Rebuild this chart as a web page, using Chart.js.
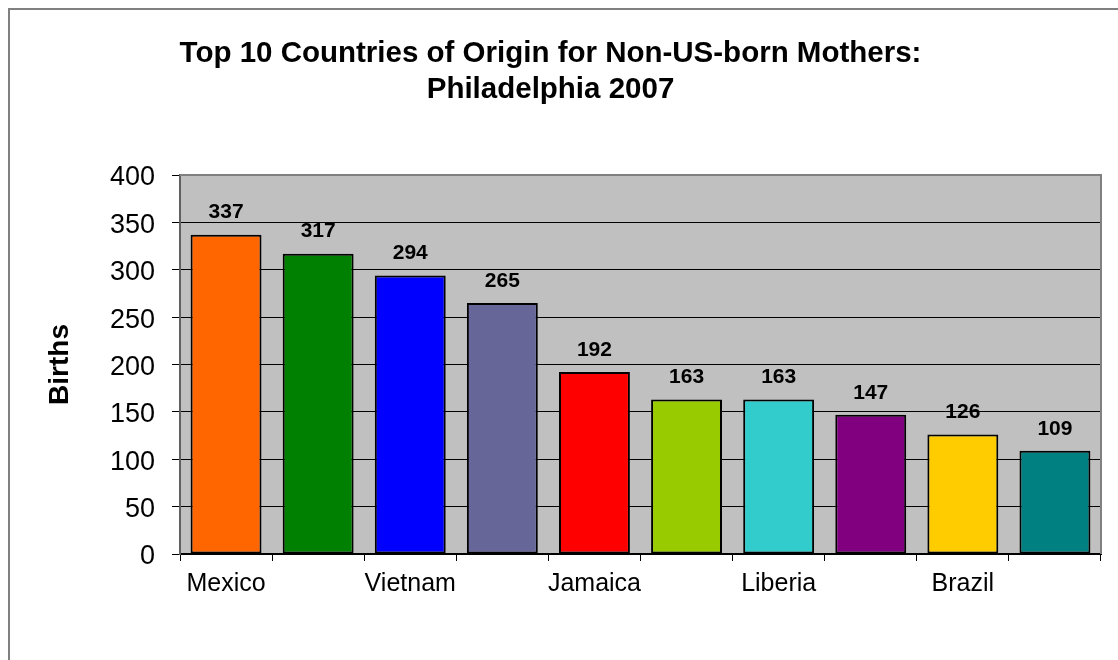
<!DOCTYPE html>
<html>
<head>
<meta charset="utf-8">
<script src="https://cdn.jsdelivr.net/npm/chart.js@4"></script>
<style>
html,body{margin:0;padding:0;background:#fff;}
#wrap{width:1118px;height:660px;position:relative;}
</style>
</head>
<body>
<div id="wrap"><canvas id="c" width="1118" height="660"></canvas></div>
<script>
const categories = ["Mexico", "", "Vietnam", "", "Jamaica", "", "Liberia", "", "Brazil", ""];
const births = [337, 317, 294, 265, 192, 163, 163, 147, 126, 109];
const barColors = ["#FF6600", "#008000", "#0000FF", "#666699", "#FF0000", "#99CC00", "#33CCCC", "#800080", "#FFCC00", "#008080"];
const yTicks = [0, 50, 100, 150, 200, 250, 300, 350, 400];
const titleLines = ["Top 10 Countries of Origin for Non-US-born Mothers:", "Philadelphia 2007"];
const yTitle = "Births";

const FONT = "'Liberation Sans', Arial, sans-serif";

const decor = {
  id: 'decor',
  beforeDraw(chart) {
    const {ctx, chartArea: a} = chart;
    ctx.save();
    ctx.fillStyle = '#C0C0C0';
    ctx.fillRect(a.left, a.top, a.right - a.left, a.bottom - a.top);
    ctx.strokeStyle = '#808080';
    ctx.lineWidth = 2;
    ctx.strokeRect(9, 9, 3000, 3000);
    ctx.restore();
  },
  afterDatasetsDraw(chart) {
    const {ctx, chartArea: a} = chart;
    ctx.save();
    ctx.strokeStyle = '#808080';
    ctx.lineWidth = 2;
    ctx.beginPath();
    ctx.moveTo(a.left, a.top);
    ctx.lineTo(a.right, a.top);
    ctx.lineTo(a.right, a.bottom);
    ctx.stroke();
    // value labels
    const meta = chart.getDatasetMeta(0);
    ctx.fillStyle = '#000';
    ctx.font = "bold 21px " + FONT;
    ctx.textAlign = 'center';
    ctx.textBaseline = 'middle';
    meta.data.forEach((bar, i) => {
      ctx.fillText(String(chart.data.datasets[0].data[i]), bar.x, bar.y - 22);
    });
    ctx.restore();
  }
};

new Chart(document.getElementById('c'), {
  type: 'bar',
  data: {
    labels: categories,
    datasets: [{
      data: births,
      backgroundColor: barColors,
      borderColor: '#000',
      borderWidth: 2,
      borderSkipped: false,
      barPercentage: 0.77,
      categoryPercentage: 1.0
    }]
  },
  options: {
    responsive: false,
    animation: false,
    layout: {padding: {left: 0, right: 17, top: 0, bottom: 0}},
    plugins: {
      legend: {display: false},
      tooltip: {enabled: false},
      title: {
        display: true,
        text: titleLines,
        color: '#000',
        font: {family: FONT, size: 29.5, weight: 'bold', lineHeight: 36 / 29.5},
        padding: {top: 36, bottom: 67}
      }
    },
    scales: {
      x: {
        offset: true,
        grid: {display: true, drawOnChartArea: false, offset: true, color: '#000', tickLength: 7, lineWidth: 1},
        border: {display: true, color: '#000', width: 2},
        ticks: {
          color: '#000',
          font: {family: FONT, size: 25},
          padding: 8,
          autoSkip: false,
          maxRotation: 0
        },
        afterFit(s) { s.height = 106; }
      },
      y: {
        min: 0,
        max: 400,
        afterBuildTicks(s) { s.ticks = yTicks.map(v => ({value: v})); },
        grid: {color: '#000', lineWidth: 1, tickLength: 8},
        border: {display: true, color: '#606060', width: 2},
        ticks: {
          color: '#000',
          font: {family: FONT, size: 27},
          padding: 17,
          labelOffset: 3
        },
        title: {
          display: true,
          text: yTitle,
          color: '#000',
          font: {family: FONT, size: 28, weight: 'bold', lineHeight: 1.2},
          padding: {top: 43, bottom: 0}
        },
        afterFit(s) { s.width = 180; }
      }
    }
  },
  plugins: [decor]
});
</script>
</body>
</html>
